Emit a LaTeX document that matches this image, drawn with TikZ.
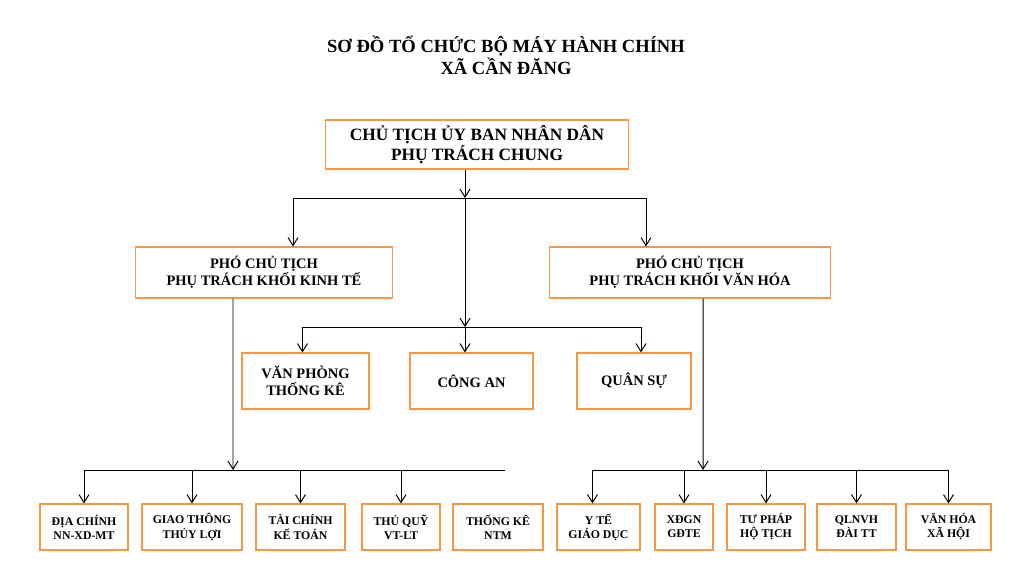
\documentclass[tikz,border=0pt]{standalone}
\usepackage{fontspec}
\setmainfont{Liberation Serif}
\usetikzlibrary{arrows.meta,positioning}
\definecolor{boxline}{HTML}{F79646}

\begin{document}
\begin{tikzpicture}[x=0.025cm,y=-0.025cm]
\tikzstyle{unit}=[rectangle, draw=boxline, line width=0.75pt, align=center, inner sep=0pt, font=\bfseries\fontsize{10.3}{12}\selectfont, minimum height=1.275cm]
\tikzstyle{small}=[unit, font=\bfseries\fontsize{8.4}{10}\selectfont, minimum height=1.15cm]
\tikzstyle{connect}=[-{Straight Barb[length=2mm,width=2.5mm]}, line width=0.7pt]
\tikzstyle{bus}=[line width=0.7pt]
\useasboundingbox (0,0) rectangle (1018,582);
  \node[align=center, font=\bfseries\fontsize{13.2}{15.6}\selectfont] (title) at (506,55) {SƠ ĐỒ TỔ CHỨC BỘ MÁY HÀNH CHÍNH\\XÃ CẦN ĐĂNG};
  \node[unit, font=\bfseries\fontsize{12.3}{14}\selectfont, minimum width=7.55cm, minimum height=1.225cm] (ct) at (477,144.5) {CHỦ TỊCH ỦY BAN NHÂN DÂN\\PHỤ TRÁCH CHUNG};
% pho chu tich
  \node[unit, minimum width=6.4cm] (kt) at (264,272.5) {PHÓ CHỦ TỊCH\\PHỤ TRÁCH KHỐI KINH TẾ};
  \node[unit, minimum width=7cm] (vh) at (690,272.5) {PHÓ CHỦ TỊCH\\PHỤ TRÁCH KHỐI VĂN HÓA};
% khoi giua
  \node[unit, minimum width=3.175cm, minimum height=1.4cm] (vptk) at (305.5,381) {VĂN PHÒNG\\THỐNG KÊ};
  \node[unit, minimum width=3.075cm, minimum height=1.4cm] (ca) at (471.5,381) {CÔNG AN};
  \node[unit, minimum width=2.85cm, minimum height=1.4cm] (qs) at (634,381) {QUÂN SỰ};
% khoi kinh te
  \node[small, minimum width=2.2cm] (dc) at (84,527) {ĐỊA CHÍNH\\NN-XD-MT};
  \node[small, minimum width=2.5cm] (gt) at (192,527) {GIAO THÔNG\\THỦY LỢI};
  \node[small, minimum width=2.225cm] (tc) at (300.5,527) {TÀI CHÍNH\\KẾ TOÁN};
  \node[small, minimum width=1.95cm] (tq) at (401,527) {THỦ QUỸ\\VT-LT};
  \node[small, minimum width=2.25cm] (ntm) at (498,527) {THỐNG KÊ\\NTM};
% khoi van hoa
  \node[small, minimum width=2.075cm] (yt) at (598.5,527) {Y TẾ\\GIÁO DỤC};
  \node[small, minimum width=1.45cm] (xd) at (684,527) {XĐGN\\GĐTE};
  \node[small, minimum width=1.95cm] (tp) at (766,527) {TƯ PHÁP\\HỘ TỊCH};
  \node[small, minimum width=1.975cm] (ql) at (856.5,527) {QLNVH\\ĐÀI TT};
  \node[small, minimum width=2.125cm] (vx) at (948.5,527) {VĂN HÓA\\XÃ HỘI};
  \coordinate (hub) at (465,198);
  \coordinate (hubmid) at (465,327);
  \coordinate (busL) at (233,470);
  \coordinate (busLend) at (505,470);
  \coordinate (busR) at (703,470);
  \draw[connect] (ct.south -| hub) -- (hub);
  \draw[connect] (hub) -| ([xshift=0.725cm]kt.north);
  \draw[connect] (hub) -| ([xshift=-1.1cm]vh.north);
  \draw[connect] (hub) -- (hubmid);
  \draw[connect] (hubmid) -| ([xshift=-0.075cm]vptk.north);
  \draw[connect] (hubmid) -- (hubmid |- ca.north);
  \draw[connect] (hubmid) -| ([xshift=0.175cm]qs.north);
  \draw[connect] ([xshift=-0.775cm]kt.south) -- (busL);
  \draw[bus] (dc.north |- busL) -- (busLend);
  \foreach \n in {dc,gt,tc,tq}
    \draw[connect] (\n.north |- busL) -- (\n.north);
  \draw[connect] ([xshift=0.325cm]vh.south) -- (busR);
  \draw[bus] ([xshift=-0.15cm]yt.north |- busR) -- (vx.north |- busR);
  \draw[connect] ([xshift=-0.15cm]yt.north |- busR) -- ([xshift=-0.15cm]yt.north);
  \foreach \n in {xd,tp,ql,vx}
    \draw[connect] (\n.north |- busR) -- (\n.north);
\end{tikzpicture}
\end{document}
